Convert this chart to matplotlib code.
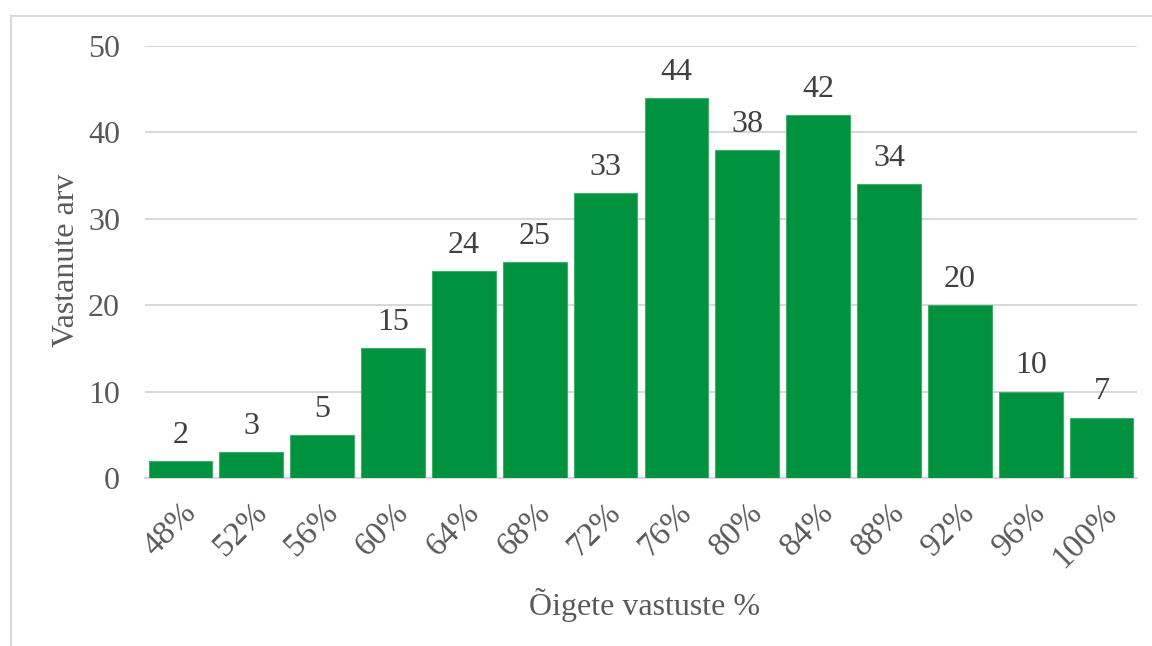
import matplotlib
matplotlib.use("Agg")
import matplotlib.pyplot as plt
from matplotlib.lines import Line2D

categories = ["48%", "52%", "56%", "60%", "64%", "68%", "72%", "76%", "80%", "84%", "88%", "92%", "96%", "100%"]
values = [2, 3, 5, 15, 24, 25, 33, 44, 38, 42, 34, 20, 10, 7]
yticks = [0, 10, 20, 30, 40, 50]

plt.rcParams['font.family'] = ['Liberation Serif', 'DejaVu Serif']

W, H = 1152, 646
fig = plt.figure(figsize=(W / 100, H / 100), dpi=100)
ax = fig.add_axes([145 / W, 1 - 478 / H, (1137 - 145) / W, (478 - 46) / H])

x = list(range(len(categories)))
bars = ax.bar(x, values, width=0.9, color='#00923F', edgecolor='#3FAE6A', linewidth=0.8, zorder=3)

ax.set_xlim(-0.5, len(categories) - 0.5)
ax.set_ylim(0, 50)
ax.set_yticks(yticks)
ax.set_yticklabels([str(t) for t in yticks], fontsize=23, color='#595959')
ax.set_xticks(x)
ax.set_xticklabels(categories, fontsize=24, color='#595959', rotation=45,
                   ha='right', va='top', rotation_mode='anchor')
ax.tick_params(axis='both', length=0)
ax.tick_params(axis='y', pad=18)
ax.tick_params(axis='x', pad=14)

ax.grid(axis='y', color='#D9D9D9', linewidth=1.5, zorder=0)
for s in ['top', 'right', 'left']:
    ax.spines[s].set_visible(False)
ax.spines['bottom'].set_color('#D9D9D9')
ax.spines['bottom'].set_linewidth(1.5)

for xi, v in zip(x, values):
    ax.annotate(str(v), (xi, v), xytext=(0, 8), textcoords='offset points',
                ha='center', va='bottom', fontsize=23, color='#404040')

fig.text(645 / W, 1 - 605 / H, "Õigete vastuste %", ha='center', va='center', fontsize=23, color='#595959')
fig.text(66 / W, 1 - 260 / H, "Vastanute arv", ha='center', va='center', rotation=90, fontsize=23, color='#595959')

# outer chart border (left and top)
fig.add_artist(Line2D([10.5 / W, 10.5 / W], [0, 1 - 15.5 / H], transform=fig.transFigure, color='#D9D9D9', linewidth=1.5))
fig.add_artist(Line2D([10.5 / W, 1], [1 - 15.5 / H, 1 - 15.5 / H], transform=fig.transFigure, color='#D9D9D9', linewidth=1.5))

fig.savefig("out.png", dpi=100)
